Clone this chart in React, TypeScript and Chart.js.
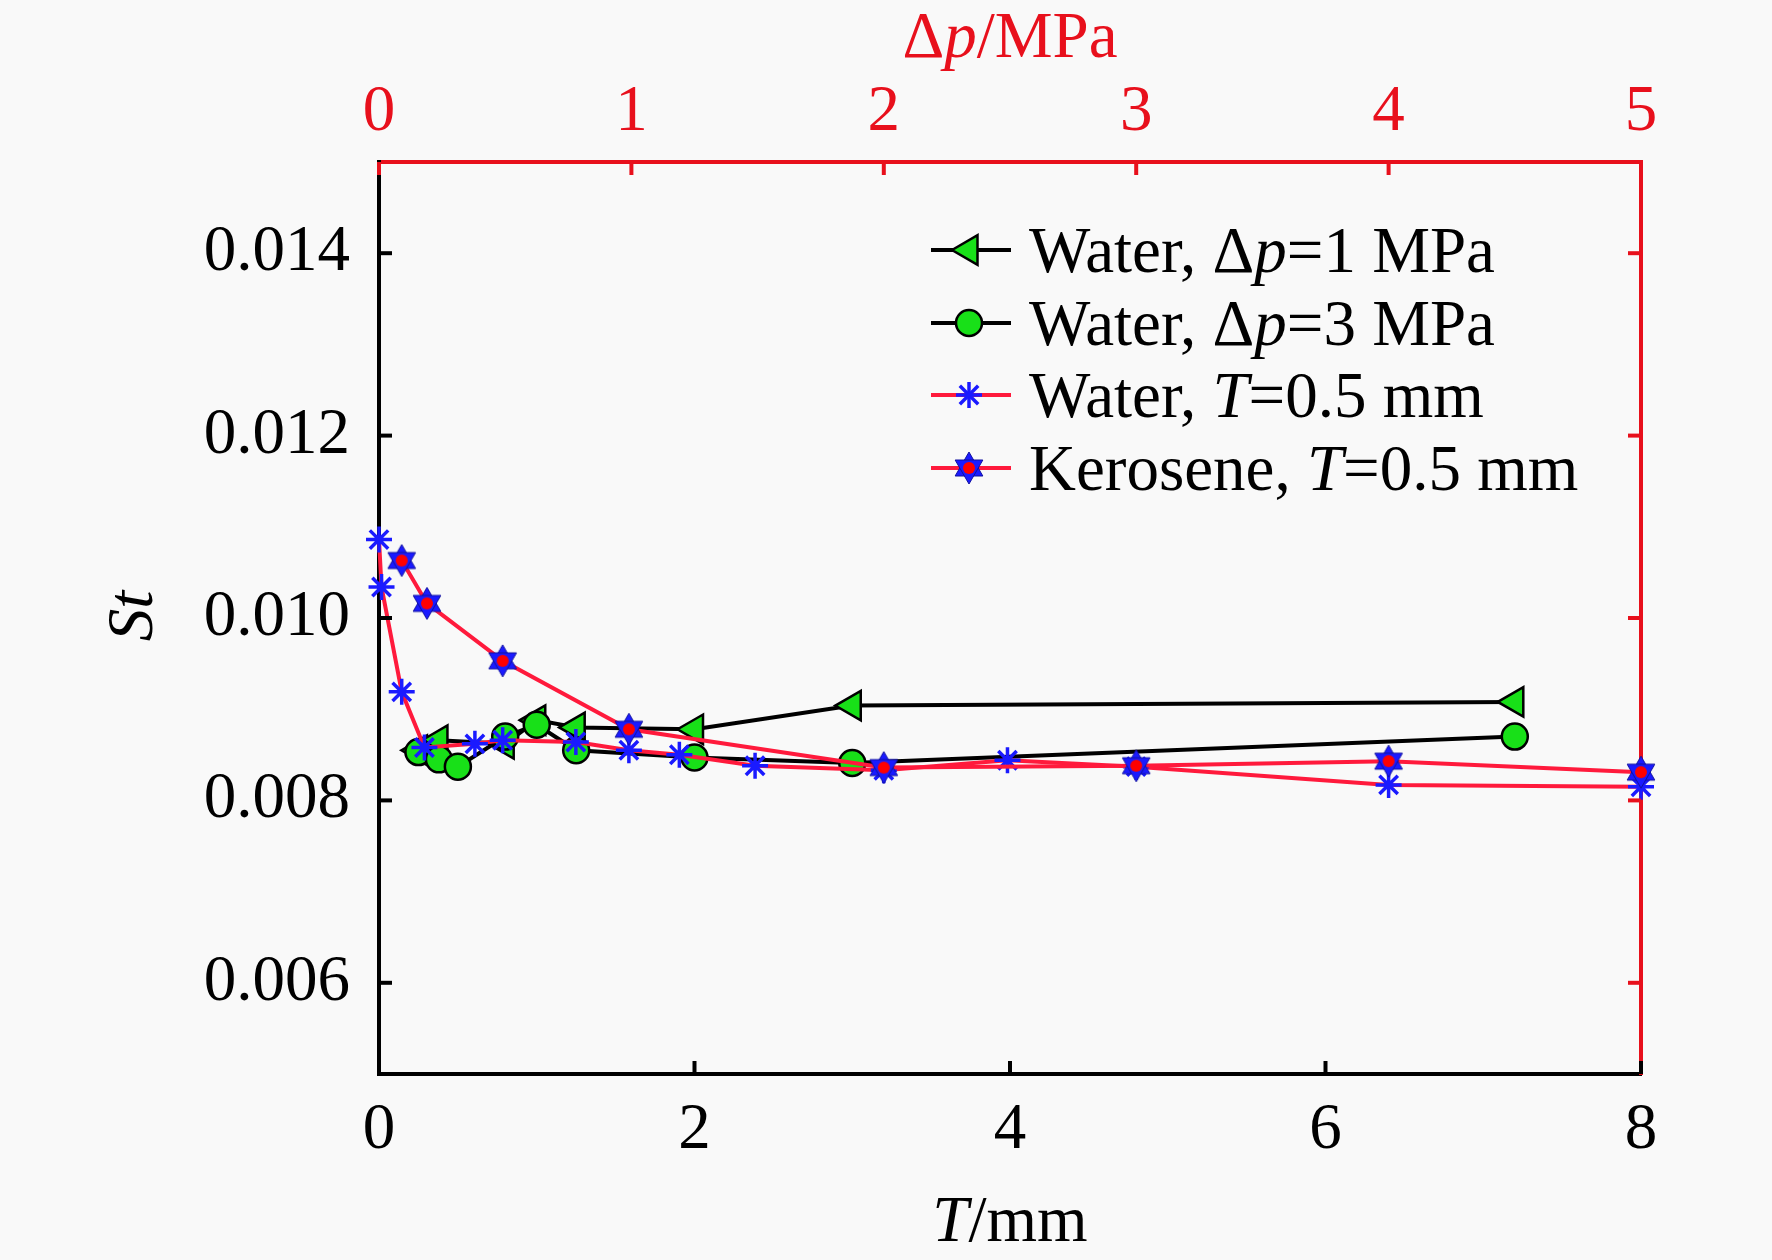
import React, { useEffect, useRef } from "react";
import { Chart, registerables } from "chart.js";
Chart.register(...registerables);

// ---- data ----
const tWaterDp1: number[] = [0.25, 0.38, 0.8, 1.0, 1.25, 2.0, 3.0, 7.2];
const stWaterDp1: number[] = [0.00855, 0.00866, 0.00862, 0.00888, 0.0088, 0.00878, 0.00904, 0.00908];
const tWaterDp3: number[] = [0.25, 0.38, 0.5, 0.8, 1.0, 1.25, 2.0, 3.0, 7.2];
const stWaterDp3: number[] = [0.00853, 0.00845, 0.00837, 0.0087, 0.00883, 0.00855, 0.00847, 0.00841, 0.0087];
const dpWaterT05: number[] = [0, 0.01, 0.09, 0.18, 0.38, 0.49, 0.78, 0.99, 1.19, 1.49, 2.0, 2.49, 3.0, 4.0, 5.0];
const stWaterT05: number[] = [0.01086, 0.01034, 0.00919, 0.00858, 0.00862, 0.00866, 0.00864, 0.00855, 0.0085, 0.00838, 0.00833, 0.00844, 0.00837, 0.00817, 0.00815];
const dpKeroT05: number[] = [0.09, 0.19, 0.49, 0.99, 2.0, 3.0, 4.0, 5.0];
const stKeroT05: number[] = [0.01063, 0.01016, 0.00953, 0.00878, 0.00836, 0.00838, 0.00843, 0.00831];
const tTicks: number[] = [0, 2, 4, 6, 8];
const dpTicks: number[] = [0, 1, 2, 3, 4, 5];
const stTicks: number[] = [0.006, 0.008, 0.01, 0.012, 0.014];

const legendLabels = [
  [{ t: "Water, Δ" }, { t: "p", i: true }, { t: "=1 MPa" }],
  [{ t: "Water, Δ" }, { t: "p", i: true }, { t: "=3 MPa" }],
  [{ t: "Water, " }, { t: "T", i: true }, { t: "=0.5 mm" }],
  [{ t: "Kerosene, " }, { t: "T", i: true }, { t: "=0.5 mm" }],
];

const FONT = "'Liberation Serif', 'Times New Roman', Times, serif";
const FS = 65;
const RED = "#e8101c";
const GREEN = "#18e018";
const BLUE = "#1a1aff";
const LINE_RED = "#ff1a3c";
const LW = 4;

function makeHexagram(): HTMLCanvasElement {
  const c = document.createElement("canvas");
  const S = 36;
  c.width = S;
  c.height = S;
  const g = c.getContext("2d")!;
  const cx = S / 2, cy = S / 2, r = 16;
  g.fillStyle = BLUE;
  g.strokeStyle = "#1010a0";
  g.lineWidth = 1;
  for (const off of [0, Math.PI]) {
    g.beginPath();
    for (let k = 0; k < 3; k++) {
      const a = off - Math.PI / 2 + (k * 2 * Math.PI) / 3;
      const x = cx + r * Math.cos(a), y = cy + r * Math.sin(a);
      if (k === 0) g.moveTo(x, y); else g.lineTo(x, y);
    }
    g.closePath();
    g.fill();
    g.stroke();
  }
  g.fillStyle = "#ff0000";
  g.beginPath();
  g.arc(cx, cy, 6, 0, Math.PI * 2);
  g.fill();
  return c;
}

function drawRuns(ctx: CanvasRenderingContext2D, runs: { t: string; i?: boolean }[], x: number, y: number, align: "left" | "center", color: string) {
  ctx.save();
  ctx.fillStyle = color;
  ctx.textBaseline = "alphabetic";
  ctx.textAlign = "left";
  let total = 0;
  const widths = runs.map((r) => {
    ctx.font = `${r.i ? "italic " : ""}${FS}px ${FONT}`;
    const w = ctx.measureText(r.t).width;
    total += w;
    return w;
  });
  let cx = align === "center" ? x - total / 2 : x;
  runs.forEach((r, k) => {
    ctx.font = `${r.i ? "italic " : ""}${FS}px ${FONT}`;
    ctx.fillText(r.t, cx, y);
    cx += widths[k];
  });
  ctx.restore();
}

export default function App() {
  const ref = useRef<HTMLCanvasElement | null>(null);

  useEffect(() => {
    const canvas = ref.current;
    if (!canvas) return;
    const hex = makeHexagram();

    const bgPlugin = {
      id: "bg",
      beforeDraw(chart: any) {
        const c = chart.ctx;
        c.save();
        c.fillStyle = "#f9f9f9";
        c.fillRect(0, 0, chart.width, chart.height);
        c.restore();
      },
    };

    const decoPlugin = {
      id: "deco",
      afterDraw(chart: any) {
        const c: CanvasRenderingContext2D = chart.ctx;
        const a = chart.chartArea;
        const sx = chart.scales.x, sx2 = chart.scales.x2, sy = chart.scales.y;
        const L = 13;
        c.save();
        c.lineWidth = LW;
        // inward ticks
        c.strokeStyle = "#000";
        tTicks.forEach((v) => {
          const px = sx.getPixelForValue(v);
          c.beginPath(); c.moveTo(px, a.bottom); c.lineTo(px, a.bottom - L); c.stroke();
        });
        stTicks.forEach((v) => {
          const py = sy.getPixelForValue(v);
          c.beginPath(); c.moveTo(a.left, py); c.lineTo(a.left + L, py); c.stroke();
        });
        c.strokeStyle = RED;
        dpTicks.forEach((v) => {
          const px = sx2.getPixelForValue(v);
          c.beginPath(); c.moveTo(px, a.top); c.lineTo(px, a.top + L); c.stroke();
        });
        stTicks.forEach((v) => {
          const py = sy.getPixelForValue(v);
          c.beginPath(); c.moveTo(a.right, py); c.lineTo(a.right - L, py); c.stroke();
        });
        c.restore();

        // axis titles
        drawRuns(c, [{ t: "Δ" }, { t: "p", i: true }, { t: "/MPa" }], (a.left + a.right) / 2, 57, "center", RED);
        drawRuns(c, [{ t: "T", i: true }, { t: "/mm" }], (a.left + a.right) / 2, 1241, "center", "#000");
        c.save();
        c.translate(152, 616);
        c.rotate(-Math.PI / 2);
        drawRuns(c, [{ t: "St", i: true }], 0, 0, "center", "#000");
        c.restore();

        // legend
        const rows = [250, 323, 395, 468];
        const lineColors = ["#000", "#000", LINE_RED, LINE_RED];
        rows.forEach((ry, k) => {
          c.save();
          c.strokeStyle = lineColors[k];
          c.lineWidth = LW;
          c.beginPath(); c.moveTo(931, ry); c.lineTo(1011, ry); c.stroke();
          const mx = 969;
          if (k === 0) {
            const r = 17;
            c.fillStyle = GREEN; c.strokeStyle = "#000"; c.lineWidth = 2.5;
            c.beginPath();
            for (let j = 0; j < 3; j++) {
              const ang = -Math.PI / 2 + (j * 2 * Math.PI) / 3;
              const x = mx + Math.sin(ang) * r, y = ry - Math.cos(ang) * r;
              if (j === 0) c.moveTo(x, y); else c.lineTo(x, y);
            }
            c.closePath(); c.fill(); c.stroke();
          } else if (k === 1) {
            c.fillStyle = GREEN; c.strokeStyle = "#000"; c.lineWidth = 2.5;
            c.beginPath(); c.arc(mx, ry, 13, 0, Math.PI * 2); c.fill(); c.stroke();
          } else if (k === 2) {
            c.strokeStyle = BLUE; c.lineWidth = 3.5;
            const r = 13;
            for (let j = 0; j < 4; j++) {
              const ang = (j * Math.PI) / 4;
              c.beginPath();
              c.moveTo(mx - Math.cos(ang) * r, ry - Math.sin(ang) * r);
              c.lineTo(mx + Math.cos(ang) * r, ry + Math.sin(ang) * r);
              c.stroke();
            }
          } else {
            c.drawImage(hex, mx - hex.width / 2, ry - hex.height / 2);
          }
          c.restore();
          drawRuns(c, legendLabels[k], 1029, ry + 22, "left", "#000");
        });
      },
    };

    const tickFont = { family: FONT, size: FS };

    const chart = new Chart(canvas, {
      type: "line",
      data: {
        datasets: [
          {
            label: "Kerosene, T=0.5 mm",
            data: dpKeroT05.map((x, i) => ({ x, y: stKeroT05[i] })),
            xAxisID: "x2",
            yAxisID: "y",
            borderColor: LINE_RED,
            borderWidth: LW,
            pointStyle: hex as any,
            pointRadius: 16,
            clip: false as any,
            order: 1,
          },
          {
            label: "Water, T=0.5 mm",
            data: dpWaterT05.map((x, i) => ({ x, y: stWaterT05[i] })),
            xAxisID: "x2",
            yAxisID: "y",
            borderColor: LINE_RED,
            borderWidth: LW,
            pointStyle: "star",
            pointRadius: 13,
            pointBorderColor: BLUE,
            pointBackgroundColor: BLUE,
            pointBorderWidth: 3.5,
            clip: false as any,
            order: 2,
          },
          {
            label: "Water, Δp=3 MPa",
            data: tWaterDp3.map((x, i) => ({ x, y: stWaterDp3[i] })),
            xAxisID: "x",
            yAxisID: "y",
            borderColor: "#000",
            borderWidth: LW,
            pointStyle: "circle",
            pointRadius: 13,
            pointBackgroundColor: GREEN,
            pointBorderColor: "#000",
            pointBorderWidth: 2.5,
            clip: false as any,
            order: 3,
          },
          {
            label: "Water, Δp=1 MPa",
            data: tWaterDp1.map((x, i) => ({ x, y: stWaterDp1[i] })),
            xAxisID: "x",
            yAxisID: "y",
            borderColor: "#000",
            borderWidth: LW,
            pointStyle: "triangle",
            pointRotation: -90,
            pointRadius: 17,
            pointBackgroundColor: GREEN,
            pointBorderColor: "#000",
            pointBorderWidth: 2.5,
            clip: false as any,
            order: 4,
          },
        ],
      },
      options: {
        animation: false,
        responsive: false,
        devicePixelRatio: 1,
        layout: { padding: 0 },
        elements: { line: { tension: 0 } },
        plugins: { legend: { display: false }, tooltip: { enabled: false } },
        scales: {
          x: {
            type: "linear",
            position: "bottom",
            min: 0,
            max: 8,
            afterBuildTicks: (s: any) => { s.ticks = tTicks.map((v) => ({ value: v })); },
            afterFit: (s: any) => { s.height = 186; },
            ticks: { font: tickFont, color: "#000", padding: 18, maxRotation: 0, autoSkip: false, callback: (v: any) => String(v) },
            grid: { display: false, drawTicks: false },
            border: { display: true, color: "#000", width: LW },
          },
          x2: {
            type: "linear",
            position: "top",
            min: 0,
            max: 5,
            afterBuildTicks: (s: any) => { s.ticks = dpTicks.map((v) => ({ value: v })); },
            afterFit: (s: any) => { s.height = 162; },
            ticks: { font: tickFont, color: RED, padding: 10, maxRotation: 0, autoSkip: false, callback: (v: any) => String(v) },
            grid: { display: false, drawTicks: false },
            border: { display: true, color: RED, width: LW },
          },
          y: {
            type: "linear",
            position: "left",
            min: 0.005,
            max: 0.015,
            afterBuildTicks: (s: any) => { s.ticks = stTicks.map((v) => ({ value: v })); },
            afterFit: (s: any) => { s.width = 379; },
            ticks: { font: tickFont, color: "#000", padding: 29, autoSkip: false, callback: (v: any) => Number(v).toFixed(3) },
            grid: { display: false, drawTicks: false },
            border: { display: true, color: "#000", width: LW },
          },
          y2: {
            type: "linear",
            position: "right",
            min: 0.005,
            max: 0.015,
            afterFit: (s: any) => { s.width = 131; },
            ticks: { display: false },
            grid: { display: false, drawTicks: false },
            border: { display: true, color: RED, width: LW },
          },
        },
      } as any,
      plugins: [bgPlugin, decoPlugin],
    });

    return () => chart.destroy();
  }, []);

  return (
    <div style={{ position: "absolute", left: 0, top: 0, width: 1772, height: 1260 }}>
      <canvas ref={ref} width={1772} height={1260} style={{ width: 1772, height: 1260, display: "block" }} />
    </div>
  );
}
